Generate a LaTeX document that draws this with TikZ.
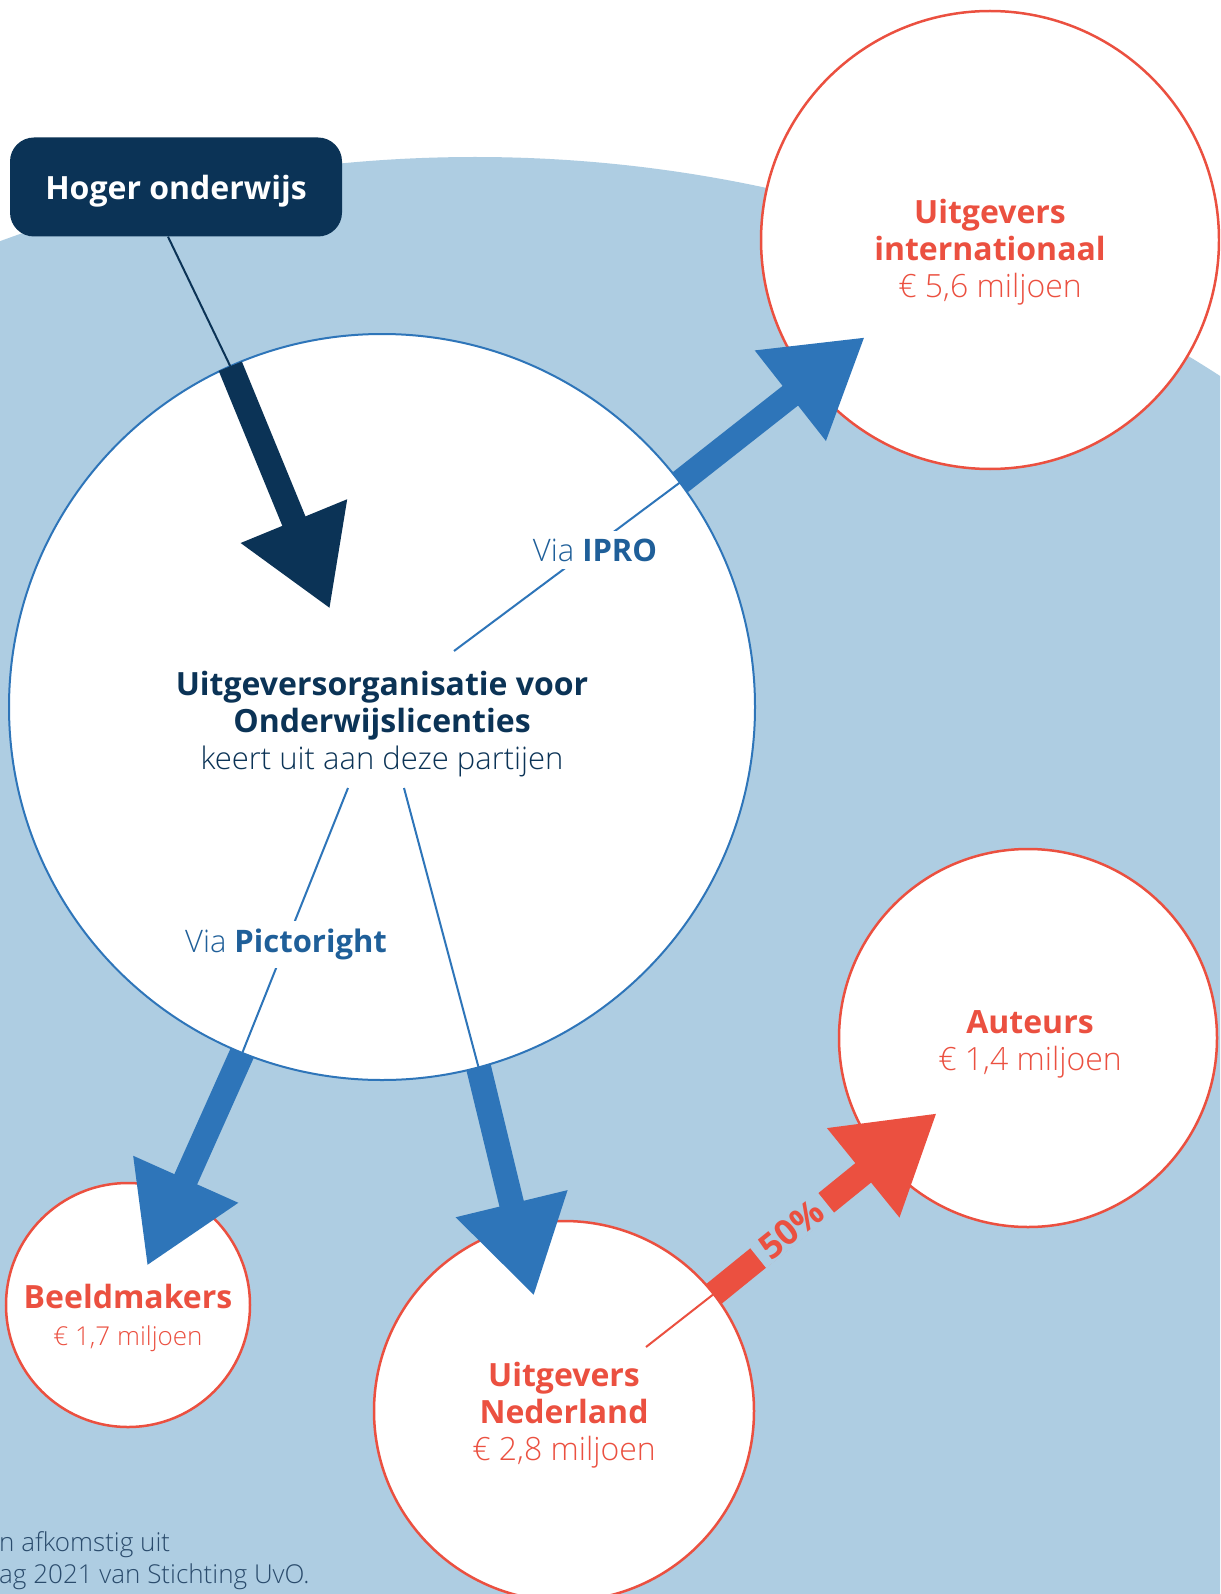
\documentclass[tikz,border=0pt]{standalone}
\usepackage{fontspec}
\setmainfont{Open Sans}
\newfontfamily\lightfont{Open Sans Light}
\usetikzlibrary{arrows.meta}
\definecolor{navy}{HTML}{0B3356}
\definecolor{uvoblue}{HTML}{2E75B9}
\definecolor{uvored}{HTML}{EB5040}
\definecolor{skyfill}{HTML}{AECDE2}
\definecolor{viablue}{HTML}{1F5F99}
\definecolor{notegrey}{HTML}{2A4B6C}

\begin{document}
\begin{tikzpicture}[x=1pt,y=-1pt,
    party/.style={circle,draw=uvored,line width=2.5pt,fill=white,inner sep=0pt,outer sep=0pt},
    hub/.style={circle,draw=uvoblue,line width=2pt,fill=white,inner sep=0pt,outer sep=0pt},
    words/.style={align=center,font=\fontsize{32}{37}\selectfont},
    feed/.style={line width=2pt},
    fat/.style={line width=25pt,-{Triangle[length=95pt,width=108pt]}},
    via/.style={fill=white,text=viablue,inner sep=8pt,font=\fontsize{31}{37}\selectfont}]

    \useasboundingbox (0,0) rectangle (1220,1594);
    \clip (0,0) rectangle (1220,1594);
    \fill[white] (0,0) rectangle (1220,1594);
    \fill[skyfill] (475,1533) circle[radius=1376];

    % circles
    \node[hub,minimum size=746pt]   (hub)     at (382,707)  {};
    \node[party,minimum size=458pt] (intl)    at (990,240)  {};
    \node[party,minimum size=378pt] (auteurs) at (1028,1038) {};
    \node[party,minimum size=244pt] (beeld)   at (128,1305) {};
    \node[party,minimum size=380pt] (nl)      at (564,1411) {};

    \node[fill=navy,rounded corners=24pt,minimum width=332pt,minimum height=99pt,text depth=0pt,
          text=white,font=\bfseries\fontsize{32}{37}\selectfont] (hoger) at (176,187) {Hoger onderwijs};

    % arrow tips and loose ends
    \coordinate (darktip)  at (330,609);
    \coordinate (intltip)  at (865,337);
    \coordinate (beeldtip) at (147,1266);
    \coordinate (nltip)    at (534,1296);
    \coordinate (auttip)   at (937,1113);
    \coordinate (ipro0)    at (454,651);
    \coordinate (picto0)   at (348,788);
    \coordinate (nl0)      at (404,788);
    \coordinate (red0)     at (646,1347);

    \draw[feed,navy] ([xshift=-8pt]hoger.south) -- (hub.114.6);
    \draw[fat,navy] (hub.114.6) -- (darktip);

    \draw[feed,uvoblue] (ipro0) -- (hub.37.6);
    \draw[fat,uvoblue] (hub.37.6) -- (intltip);

    \draw[feed,uvoblue] (picto0) -- (hub.-112.9);
    \draw[fat,uvoblue] (hub.-112.9) -- (beeldtip);

    \draw[feed,uvoblue] (nl0) -- (hub.-75.4);
    \draw[fat,uvoblue] (hub.-75.4) -- (nltip);

    \draw[feed,uvored] (red0) -- (nl.38.6);
    \draw[fat,uvored] (nl.38.6) -- (auttip);

    % labels
    \node[via] (iprolabel)  at (595,550) {{\lightfont Via} \textbf{IPRO}};
    \node[via] (pictolabel) at (286,944) {{\lightfont Via} \textbf{Pictoright}};
    \node[fill=skyfill,text=uvored,rotate=38.8,inner xsep=8pt,inner ysep=2pt,
          font=\bfseries\fontsize{35}{35}\selectfont] (half) at (791,1229) {50\%};

    \node[words,text=navy] (hubtext) at (382,724)
        {\textbf{Uitgeversorganisatie voor}\\\textbf{Onderwijslicenties}\\{\lightfont\fontsize{31}{37}\selectfont keert uit aan deze partijen}};
    \node[words,text=uvored] (intltext) at (990,252)
        {\textbf{Uitgevers}\\\textbf{internationaal}\\{\lightfont € 5,6 miljoen}};
    \node[words,text=uvored] (auttext) at (1030,1044)
        {\textbf{Auteurs}\\{\lightfont € 1,4 miljoen}};
    \node[words,text=uvored] (nltext) at (564,1415)
        {\textbf{Uitgevers}\\\textbf{Nederland}\\{\lightfont € 2,8 miljoen}};
    \node[words,text=uvored] (beeldtext) at (128,1318)
        {\textbf{Beeldmakers}\\{\lightfont\fontsize{26}{30}\selectfont € 1,7 miljoen}};

    \node[anchor=north west,align=left,inner sep=0pt,text=notegrey,
          font=\lightfont\fontsize{26}{32}\selectfont] (note) at (-1,1531)
        {n afkomstig uit\\ag 2021 van Stichting UvO.};
\end{tikzpicture}
\end{document}
